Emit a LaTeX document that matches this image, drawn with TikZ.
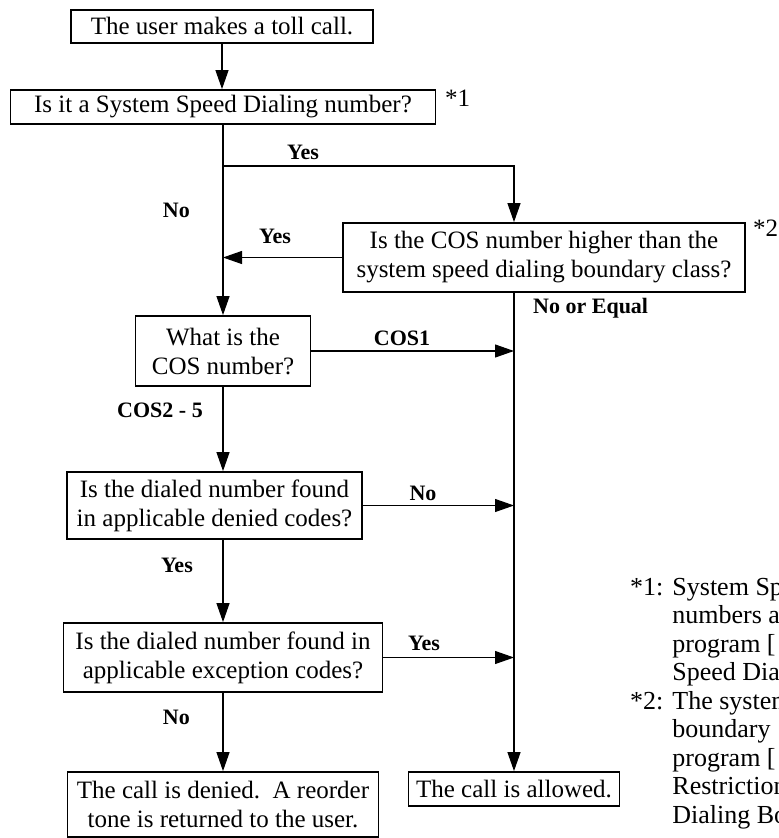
\documentclass[tikz,border=0pt]{standalone}
\usepackage{fontspec}
\setmainfont{Liberation Serif}
\usetikzlibrary{arrows.meta}
\begin{document}
\begin{tikzpicture}[x=1pt,y=-1pt,
  box/.style={draw, line width=1.8pt, inner sep=0pt, align=center, font=\fontsize{25}{29}\selectfont},
  lbl/.style={font=\fontsize{22}{26}\selectfont\bfseries, inner sep=0pt},
  conn/.style={line width=1.1pt},
  arr/.style={conn, -{Triangle[length=19pt,width=13pt]}},
  note/.style={font=\fontsize{26}{28.5}\selectfont, inner sep=0pt, anchor=base west}
]
\useasboundingbox (0,0) rectangle (779,838);
% boxes
\node[box, minimum width=302pt, minimum height=33pt] (b1) at (222,26.5) {The user makes a toll call.};
\node[box, minimum width=425pt, minimum height=34pt] (b2) at (223,107) {Is it a System Speed Dialing number?};
\node[box, minimum width=402pt, minimum height=69pt] (b3) at (544,257.5) {Is the COS number higher than the\\system speed dialing boundary class?};
\node[box, minimum width=175pt, minimum height=70pt] (b4) at (223,351) {What is the\\COS number?};
\node[box, minimum width=295pt, minimum height=67pt] (b5) at (214.5,505.5) {Is the dialed number found\\in applicable denied codes?};
\node[box, minimum width=319pt, minimum height=69pt] (b6) at (223,657.5) {Is the dialed number found in\\applicable exception codes?};
\node[box, minimum width=311pt, minimum height=65pt] (b7) at (223,804.5) {The call is denied.\ \ A reorder\\tone is returned to the user.};
\node[box, minimum width=211pt, minimum height=34pt] (b8) at (514,789) {The call is allowed.};
% footnote marks
\node[note, font=\fontsize{25}{28.5}\selectfont] (s1) at (445,106) {*1};
\node[note, font=\fontsize{25}{28.5}\selectfont] (s2) at (753,236) {*2};
% coordinates
\coordinate (j1) at (223,166);
\coordinate (r1) at (514,166);
% connectors
\draw[arr] (b1.south) -- (b1.south |- b2.north);
\draw[arr] (b2.south) -- (b4.north);
\draw[arr] (j1) -- (r1) -- (r1 |- b3.north);
\draw[arr] (b3.west) -- (b3.west -| b2.south);
\draw[arr] (b3.south -| r1) -- (b8.north);
\draw[arr] (b4.east) -- (b4.east -| r1);
\draw[arr] (b4.south) -- (b4.south |- b5.north);
\draw[arr] (b5.east) -- (b5.east -| r1);
\draw[arr] (b4.south |- b5.south) -- (b6.north);
\draw[arr] (b6.east) -- (b6.east -| r1);
\draw[arr] (b6.south) -- (b7.north);
% labels
\node[lbl] (yes1) at (303,152) {Yes};
\node[lbl, anchor=east] (no1) at (190,210) {No};
\node[lbl] (yes2) at (275,236) {Yes};
\node[lbl, anchor=west] (noeq) at (533,308) {No or Equal};
\node[lbl] (cos1) at (402,338) {COS1};
\node[lbl, anchor=east] (cos25) at (203,410) {COS2 - 5};
\node[lbl] (no2) at (423,493) {No};
\node[lbl, anchor=east] (yes3) at (193,565) {Yes};
\node[lbl] (yes4) at (424,643) {Yes};
\node[lbl, anchor=east] (no3) at (190,717) {No};
% notes
\node[note] (n1) at (630,595) {\begin{tabular}[t]{@{}l@{\hspace{9pt}}l@{}}*1: & System Speed\\ & numbers are\\ & program [\\ & Speed Dialing\end{tabular}};
\node[note] (n2) at (630,709) {\begin{tabular}[t]{@{}l@{\hspace{9pt}}l@{}}*2: & The system\\ & boundary\\ & program [\\ & Restriction\\ & Dialing Boundary\end{tabular}};
\end{tikzpicture}
\end{document}
